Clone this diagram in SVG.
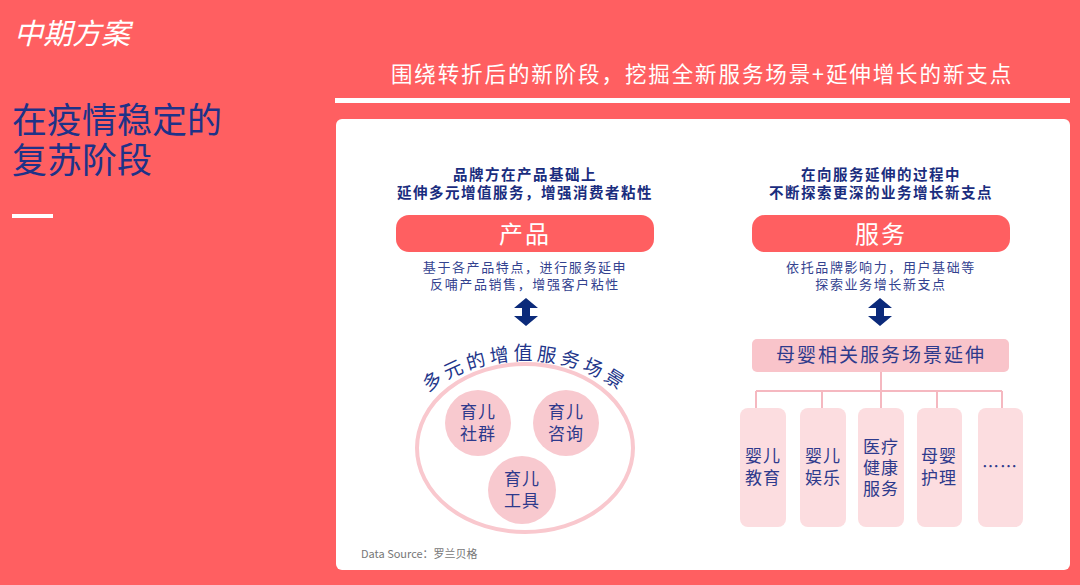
<svg xmlns="http://www.w3.org/2000/svg" width="1080" height="585" viewBox="0 0 1080 585">
<style>
text{font-family:"Noto Sans CJK SC","Liberation Sans",sans-serif}
.navy{fill:#1E3288}
.sub{fill:#33428F;font-size:13px;letter-spacing:1.6px}
.bold{fill:#1A2D7E;font-size:14.5px;font-weight:bold;letter-spacing:1.5px}
.pilltxt{fill:#fff;font-size:24px;letter-spacing:2px}
.ctxt{fill:#2E3A8C;font-size:17px;letter-spacing:1px}
.box{fill:#FCDDE0}
.conn{stroke:#F5B8C0;stroke-width:2;fill:none}
.arrow{fill:#0B2A7A}
</style>
<defs>
<path id="arc" d="M 427 393 A 163.5 163.5 0 0 1 623 393"/>
</defs>
<rect x="0" y="0" width="1080" height="585" fill="#FF5F61"/>
<g id="left-title">
<text x="14" y="44" font-size="29" font-style="italic" fill="#fff">中期方案</text>
<text x="12" y="133" font-size="35" class="navy">在疫情稳定的</text>
<text x="12" y="173" font-size="35" class="navy">复苏阶段</text>
<rect x="12" y="214" width="41" height="4" fill="#fff"/>
</g>
<g id="header">
<text x="702" y="82" font-size="21.5" fill="#fff" text-anchor="middle" letter-spacing="1.9">围绕转折后的新阶段，挖掘全新服务场景+延伸增长的新支点</text>
<rect x="335" y="98" width="735" height="5" fill="#fff"/>
</g>
<rect id="panel" x="336" y="119" width="734" height="451" rx="6" fill="#fff"/>
<g id="connectors">
<line class="conn" x1="881" y1="372" x2="881" y2="408"/>
<line class="conn" x1="756" y1="391" x2="1002" y2="391"/>
<line class="conn" x1="756" y1="391" x2="756" y2="408"/>
<line class="conn" x1="822" y1="391" x2="822" y2="408"/>
<line class="conn" x1="937" y1="391" x2="937" y2="408"/>
<line class="conn" x1="1002" y1="391" x2="1002" y2="408"/>
</g>
<g id="product">
<text class="bold" x="525" y="180" text-anchor="middle">品牌方在产品基础上</text>
<text class="bold" x="525" y="198" text-anchor="middle">延伸多元增值服务，增强消费者粘性</text>
<rect x="396" y="215" width="258" height="37" rx="13" fill="#FF5F61"/>
<text class="pilltxt" x="525" y="243" text-anchor="middle">产品</text>
<text class="sub" x="525" y="272" text-anchor="middle">基于各产品特点，进行服务延申</text>
<text class="sub" x="525" y="289" text-anchor="middle">反哺产品销售，增强客户粘性</text>
<polygon class="arrow" points="526,298 538,308 530,308 530,316 538,316 526,326 514,316 522,316 522,308 514,308"/>
</g>
<g id="service">
<text class="bold" x="881" y="180" text-anchor="middle">在向服务延伸的过程中</text>
<text class="bold" x="881" y="198" text-anchor="middle">不断探索更深的业务增长新支点</text>
<rect x="752" y="215" width="258" height="37" rx="13" fill="#FF5F61"/>
<text class="pilltxt" x="881" y="243" text-anchor="middle">服务</text>
<text class="sub" x="881" y="272" text-anchor="middle">依托品牌影响力，用户基础等</text>
<text class="sub" x="881" y="289" text-anchor="middle">探索业务增长新支点</text>
<polygon class="arrow" points="880,298 892,308 884,308 884,316 892,316 880,326 868,316 876,316 876,308 868,308"/>
</g>
<g id="scenes">
<ellipse cx="525" cy="448" rx="108" ry="84" fill="none" stroke="#F9C8CE" stroke-width="4"/>
<text font-size="19" fill="#22358A" letter-spacing="4"><textPath href="#arc" startOffset="50%" text-anchor="middle">多元的增值服务场景</textPath></text>
</g>
<g id="circle-community">
<circle cx="478" cy="423" r="33" fill="#F8C9CF"/>
<text class="ctxt" x="478" y="418" text-anchor="middle">育儿</text>
<text class="ctxt" x="478" y="440" text-anchor="middle">社群</text>
</g>
<g id="circle-consult">
<circle cx="566" cy="423" r="33" fill="#F8C9CF"/>
<text class="ctxt" x="566" y="418" text-anchor="middle">育儿</text>
<text class="ctxt" x="566" y="440" text-anchor="middle">咨询</text>
</g>
<g id="circle-tools">
<circle cx="522" cy="490" r="34" fill="#F8C9CF"/>
<text class="ctxt" x="522" y="485" text-anchor="middle">育儿</text>
<text class="ctxt" x="522" y="507" text-anchor="middle">工具</text>
</g>
<g id="maternal">
<rect x="752" y="339" width="257" height="33" rx="5" fill="#F9C4CA"/>
<text x="881" y="362" font-size="19" fill="#2E3A8C" text-anchor="middle" letter-spacing="2">母婴相关服务场景延伸</text>
</g>
<g id="box-edu">
<rect class="box" x="740" y="408" width="46" height="119" rx="8"/>
<text class="ctxt" x="763" y="462" text-anchor="middle">婴儿</text>
<text class="ctxt" x="763" y="484" text-anchor="middle">教育</text>
</g>
<g id="box-fun">
<rect class="box" x="800" y="408" width="46" height="119" rx="8"/>
<text class="ctxt" x="823" y="462" text-anchor="middle">婴儿</text>
<text class="ctxt" x="823" y="484" text-anchor="middle">娱乐</text>
</g>
<g id="box-health">
<rect class="box" x="858" y="408" width="46" height="119" rx="8"/>
<text class="ctxt" x="881" y="453" text-anchor="middle">医疗</text>
<text class="ctxt" x="881" y="474" text-anchor="middle">健康</text>
<text class="ctxt" x="881" y="495" text-anchor="middle">服务</text>
</g>
<g id="box-care">
<rect class="box" x="917" y="408" width="45" height="119" rx="8"/>
<text class="ctxt" x="939" y="462" text-anchor="middle">母婴</text>
<text class="ctxt" x="939" y="484" text-anchor="middle">护理</text>
</g>
<g id="box-more">
<rect class="box" x="978" y="408" width="45" height="119" rx="8"/>
<text class="ctxt" x="1000" y="473" text-anchor="middle">……</text>
</g>
<text x="361" y="558" font-size="11" fill="#777">Data Source：罗兰贝格</text>
</svg>
